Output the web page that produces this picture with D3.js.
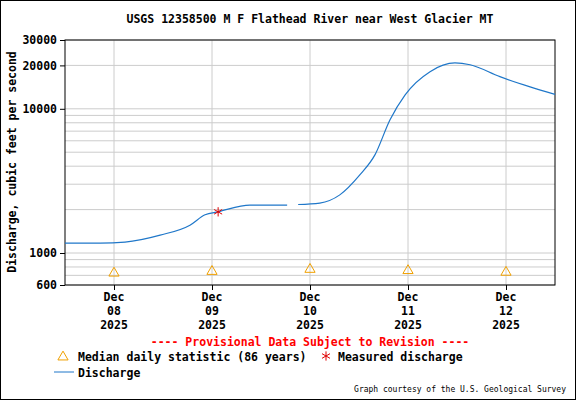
<!DOCTYPE html>
<html><head><meta charset="utf-8">
<script src="https://cdn.jsdelivr.net/npm/d3@7"></script>
<style>body{margin:0;background:#fff}text{font-family:"DejaVu Sans Mono",monospace;font-weight:bold;font-size:11.5px}</style>
</head><body><svg width="576" height="400"></svg>
<script>
const title = 'USGS 12358500 M F Flathead River near West Glacier MT';
// hours since Dec 07 12:00 and discharge (cfs); null marks the data gap
const dischargeHours = [0, 8.6, 14.7, 23.3, 30.6, 34.3, 37.5, 45.3, 54.4, 56, 57.1, 62.4, 67.3, 72.2, 75.9, 79.6, 83.3, 89.4, 95.5, 99.2, 106.5, 113.9, 120];
const dischargeValues = [1170, 1170, 1190, 1330, 1560, 1840, 1930, 2150, 2150, null, 2170, 2220, 2530, 3480, 4790, 8400, 12500, 18100, 20800, 20200, 16700, 14200, 12600];
const medianDays = ['2025-12-08', '2025-12-09', '2025-12-10', '2025-12-11', '2025-12-12'];
const medianValues = [725, 745, 770, 755, 735];
const measuredTime = '2025-12-09 01:30';
const measuredValue = 1930;
const yTicks = [600, 1000, 10000, 20000, 30000];

const svg = d3.select('svg');
const parse = d3.timeParse('%Y-%m-%d %H:%M');
const t0 = parse('2025-12-07 12:00');
const x = d3.scaleTime().domain([t0, parse('2025-12-12 12:00')]).range([65, 555]);
const y = d3.scaleLog().domain([600, 30000]).range([285, 40]);

svg.append('rect').attr('x', 0.5).attr('y', 0.5).attr('width', 575).attr('height', 399).attr('fill', 'none').attr('stroke', '#000');
svg.append('text').attr('x', 310).attr('y', 23).attr('text-anchor', 'middle').text(title);

const minor = [];
[100, 1000, 10000].forEach(d => { for (let k = 1; k < 10; k++) { const v = d * k; if (v >= 600 && v <= 30000) minor.push(v); } });
svg.append('g').selectAll('line').data(minor).join('line')
  .attr('x1', 65).attr('x2', 555).attr('y1', d => y(d)).attr('y2', d => y(d)).attr('stroke', '#ccc');
svg.append('g').selectAll('line').data(medianDays).join('line')
  .attr('x1', d => x(parse(d + ' 00:00'))).attr('x2', d => x(parse(d + ' 00:00')))
  .attr('y1', 40).attr('y2', 285).attr('stroke', '#ccc');

svg.append('rect').attr('x', 65).attr('y', 40).attr('width', 490).attr('height', 245).attr('fill', 'none').attr('stroke', '#000');

svg.append('g').attr('transform', 'translate(65,0)')
  .call(d3.axisLeft(y).tickValues(yTicks).tickFormat(d3.format('d')).tickSize(5))
  .call(g => g.select('.domain').remove())
  .call(g => g.selectAll('text').style('font-family', 'DejaVu Sans Mono').style('font-weight', 'bold').style('font-size', '11.5px').attr('fill', '#000'));
svg.append('g').attr('transform', 'translate(0,285)')
  .call(d3.axisBottom(x).tickValues(medianDays.map(d => parse(d + ' 00:00'))).tickFormat('').tickSize(5))
  .call(g => g.select('.domain').remove());
medianDays.forEach(d => {
  const t = parse(d + ' 00:00');
  const lines = [d3.timeFormat('%b')(t), d3.timeFormat('%d')(t), d3.timeFormat('%Y')(t)];
  lines.forEach((s, i) => svg.append('text').attr('x', x(t)).attr('y', 301 + i * 14).attr('text-anchor', 'middle').text(s));
});
svg.append('text').attr('transform', 'translate(16,162) rotate(-90)').attr('text-anchor', 'middle').text('Discharge, cubic feet per second');

const pts = dischargeHours.map((h, i) => ({ t: d3.timeMinute.offset(t0, h * 60), v: dischargeValues[i] }));
svg.append('path').datum(pts).attr('fill', 'none').attr('stroke', '#1f77c9').attr('stroke-width', 1.2)
  .attr('d', d3.line().defined(d => d.v != null).curve(d3.curveMonotoneX).x(d => x(d.t)).y(d => y(d.v)));

const tri = d3.symbol().type(d3.symbolTriangle).size(45);
svg.append('g').selectAll('path').data(medianDays).join('path')
  .attr('d', tri).attr('transform', (d, i) => `translate(${x(parse(d + ' 00:00'))},${y(medianValues[i])})`)
  .attr('fill', 'none').attr('stroke', '#f0a000');
const star = d3.symbol().type(d3.symbolAsterisk).size(60);
svg.append('path').attr('d', star)
  .attr('transform', `translate(${x(parse(measuredTime))},${y(measuredValue)})`).attr('stroke', '#e00000').attr('fill', 'none').attr('stroke-width', 1);

svg.append('text').attr('x', 310).attr('y', 346).attr('text-anchor', 'middle').attr('fill', '#f00').text('---- Provisional Data Subject to Revision ----');
svg.append('path').attr('d', tri).attr('transform', 'translate(63,357)').attr('fill', 'none').attr('stroke', '#f0a000');
svg.append('text').attr('x', 78).attr('y', 361).text('Median daily statistic (86 years)');
svg.append('path').attr('d', star).attr('transform', 'translate(326,356)').attr('stroke', '#e00000').attr('fill', 'none');
svg.append('text').attr('x', 338).attr('y', 361).text('Measured discharge');
svg.append('line').attr('x1', 54).attr('x2', 74).attr('y1', 372).attr('y2', 372).attr('stroke', '#1f77c9');
svg.append('text').attr('x', 78).attr('y', 377).text('Discharge');
svg.append('text').attr('x', 566).attr('y', 392).attr('text-anchor', 'end').style('font-size', '8px').style('font-weight', 'normal').text('Graph courtesy of the U.S. Geological Survey');
</script></body></html>
